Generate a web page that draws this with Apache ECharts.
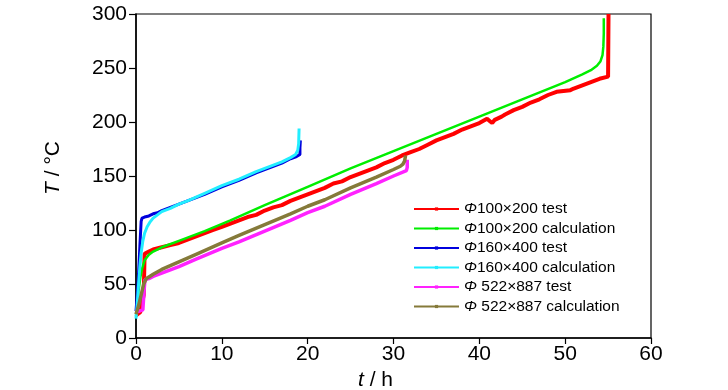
<!DOCTYPE html>
<html>
<head>
<meta charset="utf-8">
<script src="https://cdn.jsdelivr.net/npm/echarts@6/dist/echarts.min.js"></script>
<style>
html,body{margin:0;padding:0;background:#fff;}
#c{width:728px;height:390px;}
</style>
</head>
<body>
<div id="c"></div>
<script>
// ---- data (t in h, T in °C) ----
const seriesNames = ['Φ100×200 test','Φ100×200 calculation','Φ160×400 test','Φ160×400 calculation','Φ 522×887 test','Φ 522×887 calculation'];

const test100x200 = [[0,21],[0.5,24],[0.9,40],[1.0,78],[1.5,80],[2,82],[3,84],[4,86],[5,88],[6,91],[7,94],[8,97],[9,100],[10,103],[11,106],[12,109],[13,112],[14,114],[15,118],[16,121],[17,123],[18,127],[19,130],[20,133],[21,136],[22,139],[23,143],[24,145],[25,149],[26,152],[27,155],[28,158],[29,162],[30,165],[31,169],[32,172],[33,175],[34,179],[35,183],[36,186],[37,189],[38,193],[39,196],[40,199],[40.9,203],[41.2,201],[41.5,199],[41.8,202],[42.6,205],[43,207],[44,211],[45,214],[46,218],[47,221],[48,225],[49,228],[49.2,229],[50.6,229.5],[51,231],[52,234],[53,237],[54,240],[55,242],[55.05,300]];

const calc100x200 = [[0,20],[0.15,32],[0.3,44],[0.5,56],[0.7,64],[1,72],[1.5,77],[2,80],[3,84],[5,90],[8,99],[11,109],[15,123],[20,140],[25,157],[30,173],[35,189],[40,205],[45,221],[50,237],[52,244],[53,248],[53.7,252],[54.1,256],[54.35,262],[54.45,270],[54.5,282],[54.5,296]];

const test160x400 = [[0,25],[0.15,40],[0.3,60],[0.45,85],[0.6,108],[0.7,111],[1,112],[1.5,113],[2,115],[2.5,116],[3,118],[4,121],[5,124],[6,127],[8,133],[10,140],[12,146],[14,153],[16,159],[17,162],[18,166],[18.7,168],[19.1,170],[19.1,176],[19.15,183]];

const calc160x400 = [[0,18],[0.15,32],[0.3,50],[0.45,66],[0.6,79],[0.8,90],[1,97],[1.3,103],[1.6,107],[2,111],[2.5,114],[3,117],[4,120],[5,124],[6,127],[8,134],[10,141],[12,147],[14,154],[16,160],[17,163],[18,167],[18.6,170],[18.85,174],[18.95,180],[19,194]];

const test522x887 = [[0,24],[0.4,25],[0.8,26],[0.95,45],[1.05,54],[1.5,55],[2,57],[3,60],[4,63],[5,66],[7,73],[10,83],[12,89],[15,99],[18,109],[20,116],[22,122],[25,133],[28,143],[30,150],[31.5,155],[31.6,158],[31.6,165]];

const calc522x887 = [[0,22],[0.3,30],[0.6,40],[0.9,50],[1.2,55],[1.6,57],[2,59],[3,63.5],[4,67],[5,70.5],[7,77.5],[10,88],[12,95],[15,105],[18,115],[20,122],[22,128],[25,139],[28,149],[30,156],[30.8,159],[31.1,161],[31.3,164],[31.4,169]];

const xTicks = [0,10,20,30,40,50,60];
const yTicks = [0,50,100,150,200,250,300];

// ---- styles ----
const colors = ['#ff0000','#00ee00','#0000dd','#22eeff','#ff22ff','#857a3a'];
const widths = [4,2.5,3,3,3.5,3.5];
const datasets = [test100x200, calc100x200, test160x400, calc160x400, test522x887, calc522x887];

const textFont = "'Liberation Sans',Arial,sans-serif";

const chart = echarts.init(document.getElementById('c'), null, {renderer:'canvas'});
chart.setOption({
  animation:false,
  backgroundColor:'#fff',
  grid:{left:136,right:77,top:14,bottom:52,containLabel:false,outerBoundsMode:'none',show:true,borderColor:'#000',borderWidth:1.2,backgroundColor:'transparent'},
  xAxis:{
    type:'value',min:xTicks[0],max:xTicks[xTicks.length-1],interval:10,
    name:'{i|t} / h',nameLocation:'middle',nameGap:30,
    nameTextStyle:{fontFamily:textFont,fontSize:21,color:'#000',padding:[0,36,0,0],
      rich:{i:{fontStyle:'italic',fontFamily:textFont,fontSize:21,color:'#000'}}},
    axisLine:{lineStyle:{color:'#000',width:1.5}},
    axisTick:{show:true,inside:false,length:6,lineStyle:{color:'#000',width:1.2}},
    axisLabel:{fontFamily:textFont,fontSize:21,color:'#000',margin:6},
    splitLine:{show:false}
  },
  yAxis:{
    type:'value',min:yTicks[0],max:yTicks[yTicks.length-1],interval:50,
    name:'{i|T} / °C',nameLocation:'middle',nameGap:72,
    nameTextStyle:{fontFamily:textFont,fontSize:21,color:'#000',padding:[0,0,0,16],
      rich:{i:{fontStyle:'italic',fontFamily:textFont,fontSize:21,color:'#000'}}},
    axisLine:{show:true,lineStyle:{color:'#000',width:1.5}},
    axisTick:{show:true,inside:false,length:7,lineStyle:{color:'#000',width:1.2}},
    axisLabel:{fontFamily:textFont,fontSize:21,color:'#000',margin:9},
    splitLine:{show:false}
  },
  legend:{
    orient:'vertical',left:413,top:201,padding:0,itemWidth:45,itemHeight:4,itemGap:3.5,
    data:seriesNames,
    formatter:function(n){return '{i|Φ}'+n.slice(1);},
    textStyle:{fontFamily:textFont,fontSize:15.5,color:'#000',
      rich:{i:{fontStyle:'italic',fontFamily:textFont,fontSize:15.5,color:'#000'}}}
  },
  series:datasets.map(function(d,i){
    return {
      name:seriesNames[i],type:'line',data:d,
      showSymbol:false,symbol:'rect',symbolSize:3,
      lineStyle:{color:colors[i],width:widths[i]},
      itemStyle:{color:colors[i]},
      clip:true,smooth:false
    };
  })
});
</script>
</body>
</html>
